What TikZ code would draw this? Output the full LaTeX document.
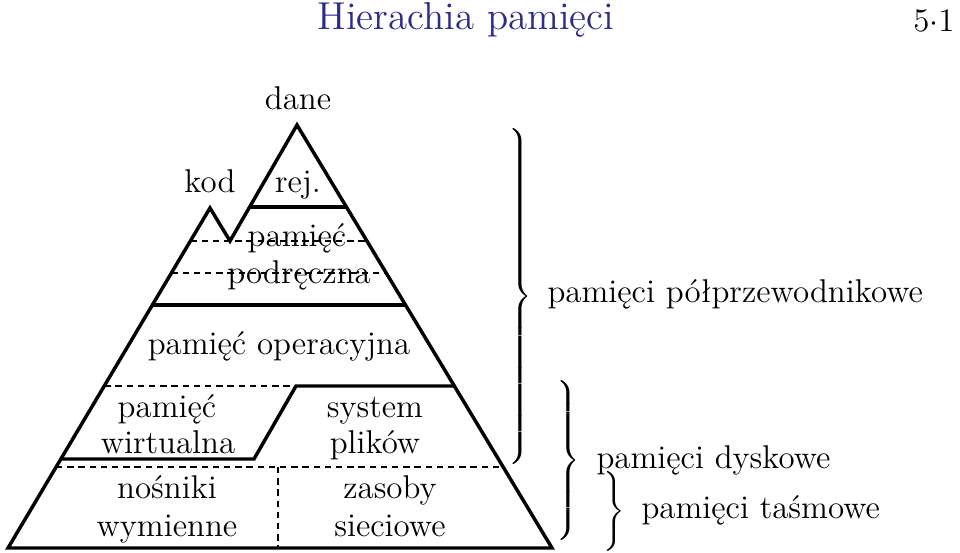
\documentclass[tikz,border=0pt]{standalone}
\usepackage{fontspec}
\usepackage{tikz}
\definecolor{titleblue}{rgb}{0.17,0.17,0.55}
\tikzset{
  wall/.style={line width=1.3pt, line join=miter},
  split/.style={line width=0.6pt, dash pattern=on 2.4pt off 1.8pt},
  lbl/.style={anchor=base, inner sep=0pt, font=\fontsize{12.35}{14}\selectfont},
  brc/.style={anchor=east, inner sep=0pt, font=\fontsize{16}{18}\selectfont},
}
% right brace of a given total height, centred on the node
\newcommand{\bigbrace}[1]{$\left.\vcenter{\hbox{\vrule height #1 width 0pt}}\right\}$}

\begin{document}
\begin{tikzpicture}[x=0.375pt,y=-0.375pt]
    \useasboundingbox (0,0) rectangle (960,553);

    % title and frame number
    \node[lbl, font=\fontsize{14.6}{17}\selectfont, text=titleblue] (title) at (466,30) {Hierachia pamięci};
    \node[lbl, anchor=base east] (num) at (955,32) {5$\cdot$1};

    % outline: two peaks
    \draw[wall] (8,548) -- (210,208) -- (230,241) -- (297,125) -- (552,548) -- cycle;

    % levels
    \draw[wall] (249.6,207) -- (346.4,207);
    \draw[split] (190.4,241) -- (366.9,241);
    \draw[split] (171.4,273) -- (386.2,273);
    \draw[wall] (152.4,305) -- (405.5,305);
    \draw[split] (104.2,386) -- (296,386);
    \draw[wall] (454.3,386) -- (296,386) -- (254,459) -- (60.9,459);
    \draw[split] (56.1,467) -- (503.2,467);
    \draw[split] (278,467) -- (278,548);

    % labels
    \node[lbl] (dane) at (298,109) {dane};
    \node[lbl] (kod) at (210,192) {kod};
    \node[lbl] (rej) at (298,192) {rej.};
    \node[lbl] (cache1) at (297,246) {pamięć};
    \node[lbl] (cache2) at (299,284) {podręczna};
    \node[lbl] (ram) at (279,354) {pamięć operacyjna};
    \node[lbl] (virt1) at (167,417) {pamięć};
    \node[lbl] (virt2) at (168,453) {wirtualna};
    \node[lbl] (fs1) at (375,417) {system};
    \node[lbl] (fs2) at (375,453) {plików};
    \node[lbl] (rem1) at (167,498) {nośniki};
    \node[lbl] (rem2) at (167,536) {wymienne};
    \node[lbl] (net1) at (390,498) {zasoby};
    \node[lbl] (net2) at (390,536) {sieciowe};

    % braces
    \node[brc] (semi) at (533,296) {\bigbrace{126pt}};
    \node[lbl, anchor=base west] (semitxt) at (547,303) {pamięci półprzewodnikowe};
    \node[brc] (disk) at (581,460) {\bigbrace{60pt}};
    \node[lbl, anchor=base west] (disktxt) at (596,468) {pamięci dyskowe};
    \node[brc] (tape) at (626,511) {\bigbrace{28pt}};
    \node[lbl, anchor=base west] (tapetxt) at (641,518) {pamięci taśmowe};
\end{tikzpicture}
\end{document}
